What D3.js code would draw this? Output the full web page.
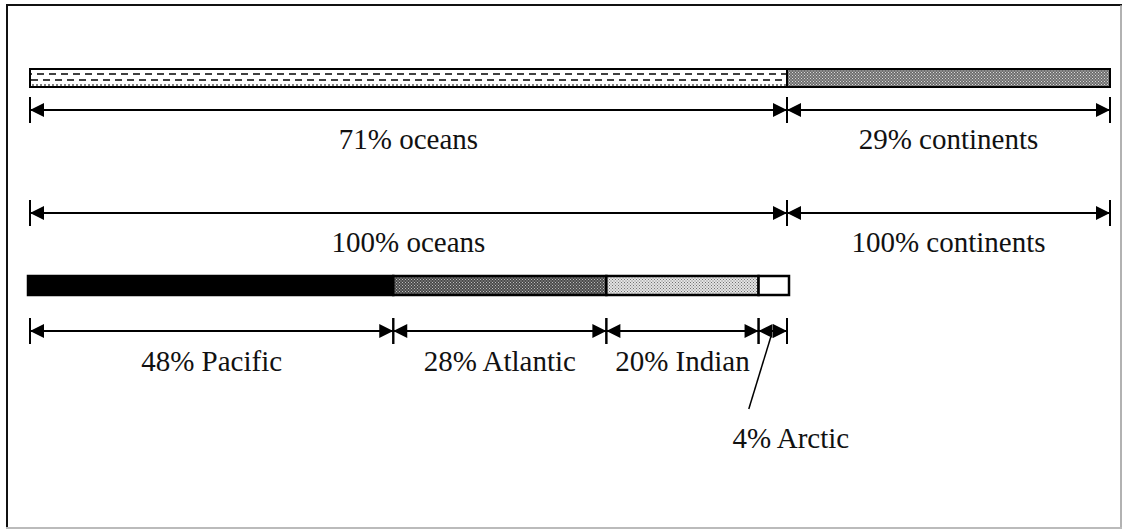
<!DOCTYPE html>
<html lang="en">
<head>
    <meta charset="UTF-8">
    <script src="https://cdnjs.cloudflare.com/ajax/libs/d3/7.8.5/d3.min.js"></script>
    <style>
        body { margin: 0; background: #fff; }
        .lbl { font-family: "Liberation Serif", "DejaVu Serif", serif; font-size: 29px; fill: #111; }
    </style>
</head>
<body>
<svg id="chart" width="1123" height="530"></svg>
<script>
    // earth surface split, then the split of the oceans
    const surfaceParts = ['oceans', 'continents'];
    const surfaceShares = [71, 29];
    const wholeLabels = ['100% oceans', '100% continents'];
    const oceanNames = ['Pacific', 'Atlantic', 'Indian', 'Arctic'];
    const oceanShares = [48, 28, 20, 4];

    const svg = d3.select('#chart');
    const defs = svg.append('defs');

    // textures, roughly like the scanned fills
    const dash = defs.append('pattern').attr('id', 'pOcean')
        .attr('patternUnits', 'userSpaceOnUse').attr('width', 12).attr('height', 18).attr('y', 69);
    dash.append('rect').attr('width', 12).attr('height', 18).attr('fill', '#fff');
    dash.append('line').attr('x1', 1).attr('x2', 8).attr('y1', 5).attr('y2', 5).attr('stroke', '#000').attr('stroke-width', 1.5);
    dash.append('line').attr('x1', 7).attr('x2', 14).attr('y1', 11).attr('y2', 11).attr('stroke', '#000').attr('stroke-width', 1.5);
    dash.append('line').attr('x1', -5).attr('x2', 2).attr('y1', 11).attr('y2', 11).attr('stroke', '#000').attr('stroke-width', 1.5);
    dash.append('line').attr('x1', 0).attr('x2', 12).attr('y1', 16).attr('y2', 16).attr('stroke', '#000').attr('stroke-width', 1).attr('stroke-dasharray', '2 2');

    function stipple(id, bg, dot, size) {
        const p = defs.append('pattern').attr('id', id)
            .attr('patternUnits', 'userSpaceOnUse').attr('width', size).attr('height', size);
        p.append('rect').attr('width', size).attr('height', size).attr('fill', bg);
        p.append('rect').attr('width', 1).attr('height', 1).attr('fill', dot);
        p.append('rect').attr('x', size / 2).attr('y', size / 2).attr('width', 1).attr('height', 1).attr('fill', dot);
    }
    stipple('pLand', '#6e6e6e', '#d8d8d8', 3);
    stipple('pAtl', '#4a4a4a', '#bdbdbd', 3);
    stipple('pInd', '#e4e4e4', '#707070', 3);

    const surfaceFill = ['url(#pOcean)', 'url(#pLand)'];
    const oceanFill = ['#000', 'url(#pAtl)', 'url(#pInd)', '#fff'];

    // frame
    svg.append('line').attr('x1', 7).attr('x2', 7).attr('y1', 5).attr('y2', 528).attr('stroke', '#111').attr('stroke-width', 2);
    svg.append('line').attr('x1', 6).attr('x2', 1122).attr('y1', 5).attr('y2', 5).attr('stroke', '#111').attr('stroke-width', 2);
    svg.append('line').attr('x1', 1121).attr('x2', 1121).attr('y1', 5).attr('y2', 528).attr('stroke', '#999').attr('stroke-width', 1.5);
    svg.append('line').attr('x1', 6).attr('x2', 1122).attr('y1', 528).attr('y2', 528).attr('stroke', '#bbb').attr('stroke-width', 2);

    // the drawing is not to exact scale: the ocean/land split sits at 787px
    const x = d3.scaleLinear().domain([0, surfaceShares[0], 100]).range([30, 787, 1110]);
    const oceanEnd = x(surfaceShares[0]);
    const xo = d3.scaleLinear().domain([0, 100]).range([28, oceanEnd + 2]);

    function spans(shares) {
        const ends = d3.cumsum(shares);
        return shares.map((v, i) => ({ v: v, a: ends[i] - v, b: ends[i] }));
    }
    const surf = spans(surfaceShares);
    const oce = spans(oceanShares);

    // dimension line with arrows pointing out to ticks
    function dimension(x0, x1, y) {
        const g = svg.append('g');
        g.append('line').attr('x1', x0).attr('x2', x1).attr('y1', y).attr('y2', y).attr('stroke', '#000').attr('stroke-width', 2);
        [x0, x1].forEach(px => {
            g.append('line').attr('x1', px).attr('x2', px).attr('y1', y - 13).attr('y2', y + 13).attr('stroke', '#000').attr('stroke-width', 2);
        });
        const ah = 14, aw = 7;
        g.append('path').attr('d', `M${x0},${y}L${x0 + ah},${y - aw}L${x0 + ah},${y + aw}Z`).attr('fill', '#000');
        g.append('path').attr('d', `M${x1},${y}L${x1 - ah},${y - aw}L${x1 - ah},${y + aw}Z`).attr('fill', '#000');
    }

    // top bar
    svg.selectAll('rect.surf').data(surf).enter().append('rect')
        .attr('class', 'surf')
        .attr('x', d => x(d.a)).attr('y', 69)
        .attr('width', d => x(d.b) - x(d.a)).attr('height', 18)
        .attr('fill', (d, i) => surfaceFill[i])
        .attr('stroke', '#000').attr('stroke-width', 2);

    surf.forEach((d, i) => {
        dimension(x(d.a), x(d.b), 110);
        svg.append('text').attr('class', 'lbl').attr('x', (x(d.a) + x(d.b)) / 2).attr('y', 149)
            .attr('text-anchor', 'middle').text(d.v + '% ' + surfaceParts[i]);
        dimension(x(d.a), x(d.b), 213);
        svg.append('text').attr('class', 'lbl').attr('x', (x(d.a) + x(d.b)) / 2).attr('y', 252)
            .attr('text-anchor', 'middle').text(wholeLabels[i]);
    });

    // oceans bar
    svg.selectAll('rect.ocean').data(oce).enter().append('rect')
        .attr('class', 'ocean')
        .attr('x', d => xo(d.a)).attr('y', 276)
        .attr('width', d => xo(d.b) - xo(d.a)).attr('height', 19)
        .attr('fill', (d, i) => oceanFill[i])
        .attr('stroke', '#000').attr('stroke-width', 2.5);

    oce.forEach((d, i) => {
        const a = i === 0 ? x(0) : xo(d.a);
        const b = i === oce.length - 1 ? oceanEnd : xo(d.b);
        dimension(a, b, 331);
        const label = d.v + '% ' + oceanNames[i];
        if (d.v >= 10) {
            svg.append('text').attr('class', 'lbl').attr('x', (a + b) / 2).attr('y', 371)
                .attr('text-anchor', 'middle').text(label);
        } else {
            const cx = (a + b) / 2;
            svg.append('line').attr('x1', cx - 2).attr('y1', 337).attr('x2', cx - 24).attr('y2', 409)
                .attr('stroke', '#000').attr('stroke-width', 1.5);
            svg.append('text').attr('class', 'lbl').attr('x', cx + 18).attr('y', 448)
                .attr('text-anchor', 'middle').text(label);
        }
    });
</script>
</body>
</html>
